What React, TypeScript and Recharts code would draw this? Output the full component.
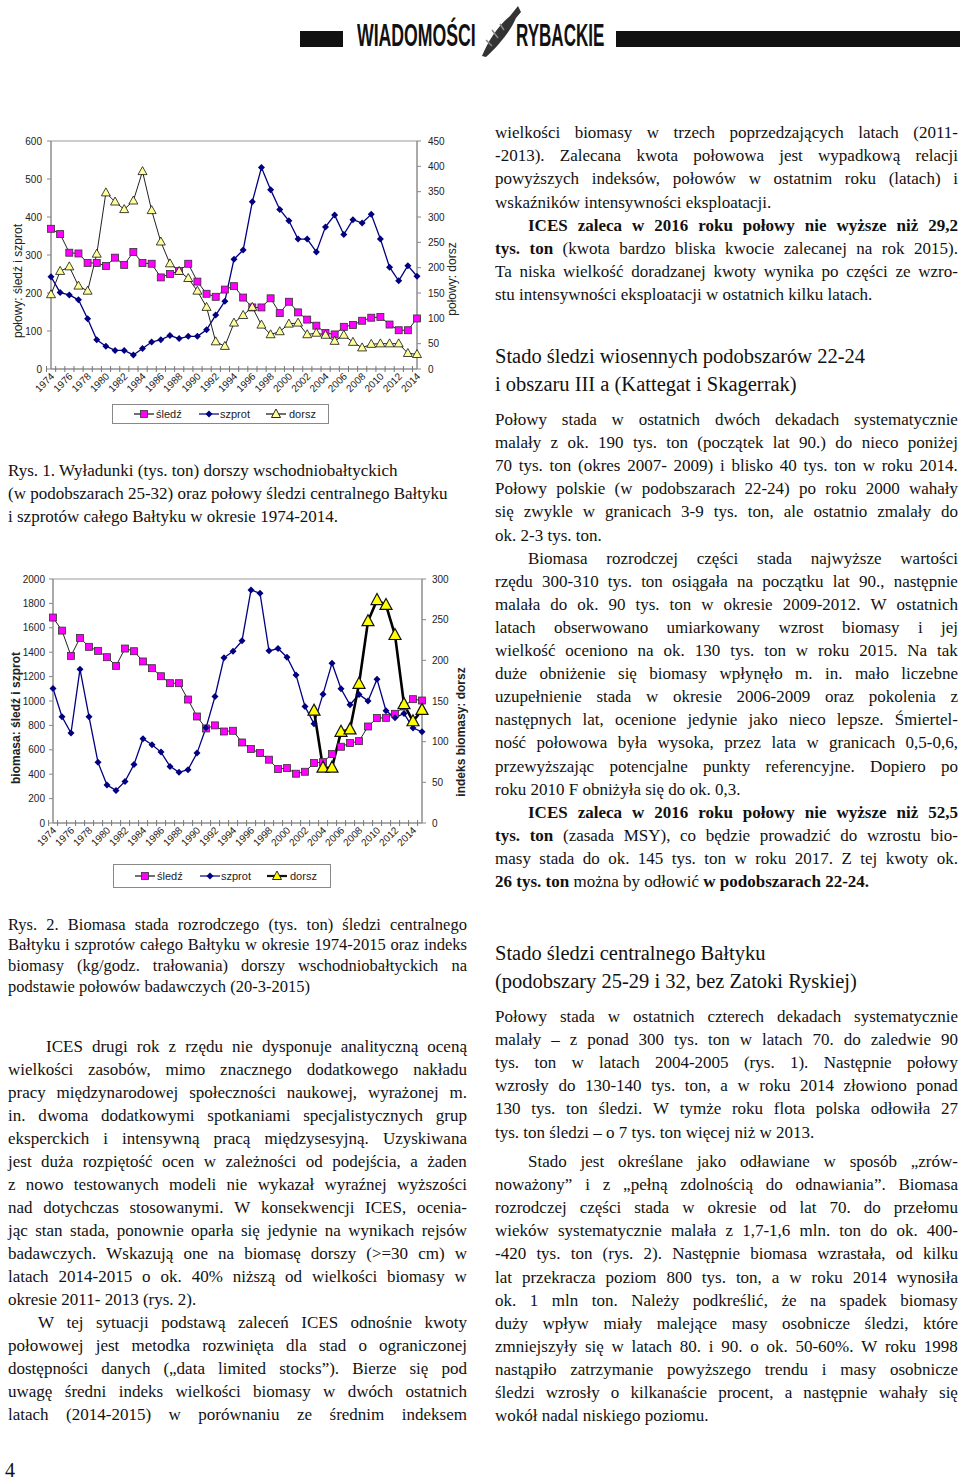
import React from "react";
import { ComposedChart, Line, XAxis, YAxis, Legend, ReferenceArea } from "recharts";

// ---- Rys. 1: połowy / wyładunki (tys. ton) ----
const years1 = ["1974","1975","1976","1977","1978","1979","1980","1981","1982","1983","1984","1985","1986","1987","1988","1989","1990","1991","1992","1993","1994","1995","1996","1997","1998","1999","2000","2001","2002","2003","2004","2005","2006","2007","2008","2009","2010","2011","2012","2013","2014"];
const herringCatch = [369,355,306,304,279,279,271,293,274,308,279,277,241,250,258,277,230,198,190,209,218,188,162,162,186,147,177,149,130,114,95,91,111,116,127,135,137,117,102,102,133];
const spratCatch = [243,201,195,182,132,77,60,49,49,37,54,71,77,88,80,86,86,103,142,178,289,313,440,530,472,420,390,342,342,308,374,405,354,393,384,407,342,268,232,272,244];
const codCatch = [147,193,202,164,154,227,348,330,315,332,390,313,251,208,193,179,154,122,54,45,91,106,122,87,68,74,89,91,68,71,67,55,67,53,42,49,50,50,50,31,29];
const leftTicks1 = [0,100,200,300,400,500,600];
const rightTicks1 = [0,50,100,150,200,250,300,350,400,450];

// ---- Rys. 2: biomasa (tys. ton) i indeks biomasy dorsza ----
const years2 = ["1974","1975","1976","1977","1978","1979","1980","1981","1982","1983","1984","1985","1986","1987","1988","1989","1990","1991","1992","1993","1994","1995","1996","1997","1998","1999","2000","2001","2002","2003","2004","2005","2006","2007","2008","2009","2010","2011","2012","2013","2014","2015"];
const herringSsb = [1684,1577,1370,1517,1444,1411,1359,1288,1430,1408,1324,1269,1203,1146,1146,1012,873,775,800,750,756,660,606,573,519,442,450,404,420,491,499,565,625,655,671,791,860,862,895,955,1015,1004];
const spratSsb = [1103,871,737,1261,871,497,311,267,341,480,690,641,581,464,415,437,573,780,1037,1354,1408,1493,1910,1883,1411,1430,1359,1214,955,813,1056,1310,1100,969,1054,1001,1179,920,862,898,778,748];
const codIndex = [null,null,null,null,null,null,null,null,null,null,null,null,null,null,null,null,null,null,null,null,null,null,null,null,null,null,null,null,null,138,68,68,112,115,171,248,274,268,231,146,125,139];
const leftTicks2 = [0,200,400,600,800,1000,1200,1400,1600,1800,2000];
const rightTicks2 = [0,50,100,150,200,250,300];

const seriesNames = ["śledź", "szprot", "dorsz"];

const catchRows = years1.map((year, i) => ({ year, herring: herringCatch[i], sprat: spratCatch[i], cod: codCatch[i] }));
const ssbRows = years2.map((year, i) => ({ year, herring: herringSsb[i], sprat: spratSsb[i], cod: codIndex[i] }));

const SANS = '"Liberation Sans", Arial, sans-serif';
const SERIF = '"Liberation Serif", "Times New Roman", serif';

const squareDot = (size: number) => (p: any) => {
  if (p.cy == null || isNaN(p.cy)) return <g key={"s" + p.index} />;
  return <rect key={"s" + p.index} x={p.cx - size / 2} y={p.cy - size / 2} width={size} height={size} fill="#ff00ff" stroke="#333" strokeWidth={0.8} />;
};
const diamondDot = (r: number) => (p: any) => {
  if (p.cy == null || isNaN(p.cy)) return <g key={"d" + p.index} />;
  const { cx, cy } = p;
  return <polygon key={"d" + p.index} points={`${cx},${cy - r} ${cx + r},${cy} ${cx},${cy + r} ${cx - r},${cy}`} fill="#000080" />;
};
const triDot = (w: number, h: number, fill: string, sw: number) => (p: any) => {
  if (p.cy == null || isNaN(p.cy)) return <g key={"t" + p.index} />;
  const { cx, cy } = p;
  return <polygon key={"t" + p.index} points={`${cx},${cy - h * 0.6} ${cx + w / 2},${cy + h * 0.4} ${cx - w / 2},${cy + h * 0.4}`} fill={fill} stroke="#111" strokeWidth={sw} />;
};

const yearTick = (bw: number) => (p: any) => {
  const { x, y, payload, index } = p;
  const lx = x + 4;
  const ly = y + 8;
  return (
    <g key={"yt" + index}>
      <line x1={x - bw / 2} x2={x - bw / 2} y1={y - 3} y2={y + 3} stroke="#777" strokeWidth={1} />
      {index % 2 === 0 && (
        <text x={lx} y={ly} textAnchor="end" transform={`rotate(-45 ${lx} ${ly})`} fontSize={10} fill="#222" fontFamily={SANS}>
          {payload.value}
        </text>
      )}
    </g>
  );
};

const axisTitle = (x: number, y: number, text: string, bold: boolean) => () => (
  <text x={x} y={y} transform={`rotate(-90 ${x} ${y})`} textAnchor="middle" dominantBaseline="central" fontSize={12} fontWeight={bold ? "bold" : "normal"} fill="#222" fontFamily={SANS}>
    {text}
  </text>
);

const LegendIcon = ({ kind, big }: { kind: number; big: boolean }) => {
  const cx = 10, cy = 6;
  return (
    <svg width={20} height={12} style={{ position: "absolute", top: 0 }}>
      <line x1={0} x2={20} y1={cy} y2={cy} stroke={kind === 1 ? "#000080" : "#111"} strokeWidth={kind === 2 && big ? 2.2 : 1.2} />
      {kind === 0 && <rect x={cx - 3.5} y={cy - 3.5} width={7} height={7} fill="#ff00ff" stroke="#333" strokeWidth={0.8} />}
      {kind === 1 && <polygon points={`${cx},${cy - 3.5} ${cx + 3.5},${cy} ${cx},${cy + 3.5} ${cx - 3.5},${cy}`} fill="#000080" />}
      {kind === 2 && <polygon points={`${cx},${cy - 5} ${cx + 4.5},${cy + 3.5} ${cx - 4.5},${cy + 3.5}`} fill={big ? "#ffff00" : "#ffff99"} stroke="#111" strokeWidth={0.9} />}
    </svg>
  );
};

const legendBox = (h: number, big: boolean) => () => {
  const iconX = [21, 86, 153];
  const textX = [43, 107, 176];
  return (
    <div style={{ position: "relative", width: "100%", height: h, border: "1px solid #888", boxSizing: "border-box", background: "#fff", fontFamily: SANS, fontSize: 11, color: "#222" }}>
      {seriesNames.map((n, i) => (
        <React.Fragment key={n}>
          <div style={{ position: "absolute", left: iconX[i], top: (h - 14) / 2 }}>
            <LegendIcon kind={i} big={big} />
          </div>
          <div style={{ position: "absolute", left: textX[i], top: (h - 14) / 2, lineHeight: "13px" }}>{n}</div>
        </React.Fragment>
      ))}
    </div>
  );
};

const tickStyle = { fontSize: 10, fill: "#222" };

const CatchChart = () => (
  <ComposedChart width={470} height={320} data={catchRows} margin={{ top: 21, right: 0, bottom: 31, left: 0 }} style={{ fontFamily: SANS }}>
    <XAxis dataKey="year" interval={0} tickSize={0} tickMargin={0} tickLine={false} tick={yearTick(366 / 41)} axisLine={{ stroke: "#888" }} height={40} />
    <YAxis yAxisId="l" domain={[0, 600]} ticks={leftTicks1} interval={0} width={51} tickSize={4} tickMargin={5}
      tick={tickStyle} axisLine={{ stroke: "#888" }} tickLine={{ stroke: "#888" }}
      label={{ content: axisTitle(18, 161, "połowy: śledź i szprot", false) }} />
    <YAxis yAxisId="r" orientation="right" domain={[0, 450]} ticks={rightTicks1} interval={0} width={53} tickSize={4} tickMargin={7}
      tick={tickStyle} axisLine={{ stroke: "#888" }} tickLine={{ stroke: "#888" }}
      label={{ content: axisTitle(452, 159, "połowy: dorsz", false) }} />
    <ReferenceArea yAxisId="l" y1={0} y2={600} fill="none" stroke="#999" strokeWidth={1} />
    <Line yAxisId="l" dataKey="herring" stroke="#222" strokeWidth={1} dot={squareDot(7)} activeDot={false} isAnimationActive={false} />
    <Line yAxisId="l" dataKey="sprat" stroke="#000080" strokeWidth={1.3} dot={diamondDot(3.5)} activeDot={false} isAnimationActive={false} />
    <Line yAxisId="r" dataKey="cod" stroke="#222" strokeWidth={1} dot={triDot(9, 8, "#ffff99", 0.8)} activeDot={false} isAnimationActive={false} />
    <Legend layout="vertical" verticalAlign="middle" align="center" wrapperStyle={{ left: 112, top: 284, width: 217, height: 20 }} content={legendBox(20, false)} />
  </ComposedChart>
);

const BiomassChart = () => (
  <ComposedChart width={475} height={340} data={ssbRows} margin={{ top: 19, right: 0, bottom: 37, left: 0 }} style={{ fontFamily: SANS }}>
    <XAxis dataKey="year" interval={0} tickSize={0} tickMargin={0} tickLine={false} tick={yearTick(369 / 42)} axisLine={{ stroke: "#888" }} height={40} />
    <YAxis yAxisId="l" domain={[0, 2000]} ticks={leftTicks2} interval={0} width={53} tickSize={4} tickMargin={4}
      tick={tickStyle} axisLine={{ stroke: "#888" }} tickLine={{ stroke: "#888" }}
      label={{ content: axisTitle(16, 158, "biomasa: śledź i szprot", true) }} />
    <YAxis yAxisId="r" orientation="right" domain={[0, 300]} ticks={rightTicks2} interval={0} width={53} tickSize={4} tickMargin={6}
      tick={tickStyle} axisLine={{ stroke: "#888" }} tickLine={{ stroke: "#888" }}
      label={{ content: axisTitle(461, 172, "indeks biomasy: dorsz", true) }} />
    <ReferenceArea yAxisId="l" y1={0} y2={2000} fill="none" stroke="#999" strokeWidth={1} />
    <Line yAxisId="l" dataKey="herring" stroke="#222" strokeWidth={1} dot={squareDot(7)} activeDot={false} isAnimationActive={false} />
    <Line yAxisId="l" dataKey="sprat" stroke="#000080" strokeWidth={1.3} dot={diamondDot(3.5)} activeDot={false} isAnimationActive={false} />
    <Line yAxisId="r" dataKey="cod" stroke="#000" strokeWidth={2.6} dot={triDot(12, 11, "#ffff00", 1.2)} activeDot={false} isAnimationActive={false} />
    <Legend layout="vertical" verticalAlign="middle" align="center" wrapperStyle={{ left: 113, top: 304, width: 218, height: 24 }} content={legendBox(24, true)} />
  </ComposedChart>
);

// ---- page text ----
type Blk = { x: number; w: number; base: number; lh: number; size: number; lines: string[] };
// prefix: "J|" justified, "L|" left; ">" / "}" in front = paragraph indent
const blocks: Blk[] = [
  { x: 495, w: 463, base: 138, lh: 23.2, size: 17, lines: [
    "J|wielkości biomasy w trzech poprzedzających latach (2011-",
    "J|-2013). Zalecana kwota połowowa jest wypadkową relacji",
    "J|powyższych indeksów, połowów w ostatnim roku (latach) i",
    "L|wskaźników intensywności eksploatacji.",
    "J|>*ICES zaleca w 2016 roku połowy nie wyższe niż 29,2*",
    "J|*tys. ton* (kwota bardzo bliska kwocie zalecanej na rok 2015).",
    "J|Ta niska wielkość doradzanej kwoty wynika po części ze wzro-",
    "L|stu intensywności eksploatacji w ostatnich kilku latach.",
  ] },
  { x: 495, w: 463, base: 425, lh: 23.1, size: 17, lines: [
    "J|Połowy stada w ostatnich dwóch dekadach systematycznie",
    "J|malały z ok. 190 tys. ton (początek lat 90.) do nieco poniżej",
    "J|70 tys. ton (okres 2007- 2009) i blisko 40 tys. ton w roku 2014.",
    "J|Połowy polskie (w podobszarach 22-24) po roku 2000 wahały",
    "J|się zwykle w granicach 3-9 tys. ton, ale ostatnio zmalały do",
    "L|ok. 2-3 tys. ton.",
    "J|>Biomasa rozrodczej części stada najwyższe wartości",
    "J|rzędu 300-310 tys. ton osiągała na początku lat 90., następnie",
    "J|malała do ok. 90 tys. ton w okresie 2009-2012. W ostatnich",
    "J|latach obserwowano umiarkowany wzrost biomasy i jej",
    "J|wielkość oceniono na ok. 130 tys. ton w roku 2015. Na tak",
    "J|duże obniżenie się biomasy wpłynęło m. in. mało liczebne",
    "J|uzupełnienie stada w okresie 2006-2009 oraz pokolenia z",
    "J|następnych lat, ocenione jedynie jako nieco lepsze. Śmiertel-",
    "J|ność połowowa była wysoka, przez lata w granicach 0,5-0,6,",
    "J|przewyższając potencjalne punkty referencyjne. Dopiero po",
    "L|roku 2010 F obniżyła się do ok. 0,3.",
    "J|>*ICES zaleca w 2016 roku połowy nie wyższe niż 52,5*",
    "J|*tys. ton* (zasada MSY), co będzie prowadzić do wzrostu bio-",
    "J|masy stada do ok. 145 tys. ton w roku 2017. Z tej kwoty ok.",
    "L|*26 tys. ton* można by odłowić *w podobszarach 22-24.*",
  ] },
  { x: 495, w: 463, base: 1022, lh: 23.1, size: 17, lines: [
    "J|Połowy stada w ostatnich czterech dekadach systematycznie",
    "J|malały – z ponad 300 tys. ton w latach 70. do zaledwie 90",
    "J|tys. ton w latach 2004-2005 (rys. 1). Następnie połowy",
    "J|wzrosły do 130-140 tys. ton, a w roku 2014 złowiono ponad",
    "J|130 tys. ton śledzi. W tymże roku flota polska odłowiła 27",
    "L|tys. ton śledzi – o 7 tys. ton więcej niż w 2013.",
  ] },
  { x: 495, w: 463, base: 1167, lh: 23.1, size: 17, lines: [
    "J|>Stado jest określane jako odławiane w sposób „zrów-",
    "J|noważony” i z „pełną zdolnością do odnawiania”. Biomasa",
    "J|rozrodczej części stada w okresie od lat 70. do przełomu",
    "J|wieków systematycznie malała z 1,7-1,6 mln. ton do ok. 400-",
    "J|-420 tys. ton (rys. 2). Następnie biomasa wzrastała, od kilku",
    "J|lat przekracza poziom 800 tys. ton, a w roku 2014 wynosiła",
    "J|ok. 1 mln ton. Należy podkreślić, że na spadek biomasy",
    "J|duży wpływ miały malejące masy osobnicze śledzi, które",
    "J|zmniejszyły się w latach 80. i 90. o ok. 50-60%. W roku 1998",
    "J|nastąpiło zatrzymanie powyższego trendu i masy osobnicze",
    "J|śledzi wzrosły o kilkanaście procent, a następnie wahały się",
    "L|wokół nadal niskiego poziomu.",
  ] },
  { x: 8, w: 459, base: 476, lh: 23, size: 17, lines: [
    "L|Rys. 1. Wyładunki (tys. ton) dorszy wschodniobałtyckich",
    "L|(w podobszarach 25-32) oraz połowy śledzi centralnego Bałtyku",
    "L|i szprotów całego Bałtyku w okresie 1974-2014.",
  ] },
  { x: 8, w: 459, base: 931, lh: 20.8, size: 16.5, lines: [
    "J|Rys. 2. Biomasa stada rozrodczego (tys. ton) śledzi centralnego",
    "J|Bałtyku i szprotów całego Bałtyku w okresie 1974-2015 oraz indeks",
    "J|biomasy (kg/godz. trałowania) dorszy wschodniobałtyckich na",
    "L|podstawie połowów badawczych (20-3-2015)",
  ] },
  { x: 8, w: 459, base: 1052, lh: 23, size: 17, lines: [
    "J|>ICES drugi rok z rzędu nie dysponuje analityczną oceną",
    "J|wielkości zasobów, mimo znacznego dodatkowego nakładu",
    "J|pracy międzynarodowej społeczności naukowej, wyrażonej m.",
    "J|in. dwoma dodatkowymi spotkaniami specjalistycznych grup",
    "J|eksperckich i intensywną pracą międzysesyjną. Uzyskiwana",
    "J|jest duża rozpiętość ocen w zależności od podejścia, a żaden",
    "J|z nowo testowanych modeli nie wykazał wyraźnej wyższości",
    "J|nad dotychczas stosowanymi. W konsekwencji ICES, ocenia-",
    "J|jąc stan stada, ponownie oparła się jedynie na wynikach rejsów",
    "J|badawczych. Wskazują one na biomasę dorszy (>=30 cm) w",
    "J|latach 2014-2015 o ok. 40% niższą od wielkości biomasy w",
    "L|okresie 2011- 2013 (rys. 2).",
    "J|}W tej sytuacji podstawą zaleceń ICES odnośnie kwoty",
    "J|połowowej jest metodka rozwinięta dla stad o ograniczonej",
    "J|dostępności danych („data limited stocks”). Bierze się pod",
    "J|uwagę średni indeks wielkości biomasy w dwóch ostatnich",
    "J|latach (2014-2015) w porównaniu ze średnim indeksem",
  ] },
];

const headings = [
  { x: 495, base: 363, lines: ["Stado śledzi wiosennych podobszarów 22-24", "i obszaru III a (Kattegat i Skagerrak)"] },
  { x: 495, base: 960, lines: ["Stado śledzi centralnego Bałtyku", "(podobszary 25-29 i 32, bez Zatoki Ryskiej)"] },
];

const parseWords = (t: string) => {
  let bold = false;
  return t.split(" ").map((w) => {
    let s = w;
    if (s.startsWith("*")) { s = s.slice(1); bold = true; }
    let close = false;
    if (s.endsWith("*")) { s = s.slice(0, -1); close = true; }
    const word = { s, b: bold };
    if (close) bold = false;
    return word;
  });
};

const TextLine = ({ raw, x, w, top, size, lh }: { raw: string; x: number; w: number; top: number; size: number; lh: number }) => {
  const just = raw.startsWith("J|");
  let t = raw.slice(2);
  let indent = 0;
  if (t.startsWith(">")) { indent = x < 100 ? 38 : 33; t = t.slice(1); }
  if (t.startsWith("}")) { indent = 30; t = t.slice(1); }
  const words = parseWords(t);
  const base: React.CSSProperties = { position: "absolute", left: x + indent, top, height: lh, lineHeight: `${lh}px`, fontSize: size, fontFamily: SERIF, color: "#111", whiteSpace: "pre" };
  if (just) {
    return (
      <div style={{ ...base, width: w - indent, display: "flex", justifyContent: "space-between" }}>
        {words.map((wd, i) => <span key={i} style={{ fontWeight: wd.b ? "bold" : "normal" }}>{wd.s}</span>)}
      </div>
    );
  }
  return (
    <div style={base}>
      {words.map((wd, i) => (
        <span key={i} style={{ fontWeight: wd.b ? "bold" : "normal" }}>{wd.s}{i < words.length - 1 ? " " : ""}</span>
      ))}
    </div>
  );
};

const logoFont: React.CSSProperties = { position: "absolute", top: 19, fontFamily: SANS, fontWeight: "bold", fontSize: 31, lineHeight: "34px", color: "#111", transformOrigin: "0 0", whiteSpace: "pre" };

const Header = () => (
  <>
    <div style={{ position: "absolute", left: 300, top: 31, width: 43, height: 16, background: "#111" }} />
    <div style={{ ...logoFont, left: 357, transform: "scaleX(0.57)" }}>WIADOMOŚCI</div>
    <svg style={{ position: "absolute", left: 474, top: 2 }} width={56} height={56}>
      <path d="M8 54 C 14 40, 22 26, 36 14 L 44 4 L 47 10 L 42 16 C 36 30, 24 44, 12 55 Z" fill="#333" />
      <path d="M18 44 L 12 38 M 24 36 L 18 28 M 30 28 L 26 22" stroke="#888" strokeWidth={1.5} />
    </svg>
    <div style={{ ...logoFont, left: 516, transform: "scaleX(0.55)" }}>RYBACKIE</div>
    <div style={{ position: "absolute", left: 616, top: 31, width: 344, height: 16, background: "#111" }} />
  </>
);

export default function App() {
  return (
    <div style={{ position: "absolute", left: 0, top: 0, width: 960, height: 1481, background: "#fff", overflow: "hidden" }}>
      <Header />
      <div style={{ position: "absolute", left: 0, top: 120 }}>
        <CatchChart />
      </div>
      <div style={{ position: "absolute", left: 0, top: 560 }}>
        <BiomassChart />
      </div>
      {blocks.map((b, bi) =>
        b.lines.map((ln, li) => (
          <TextLine key={`${bi}-${li}`} raw={ln} x={b.x} w={b.w} top={b.base + li * b.lh - b.size} size={b.size} lh={b.lh} />
        ))
      )}
      {headings.map((h, hi) =>
        h.lines.map((ln, li) => (
          <div key={`h${hi}-${li}`} style={{ position: "absolute", left: h.x, top: h.base + li * 28.3 - 21, fontFamily: SERIF, fontSize: 20.5, lineHeight: "28px", color: "#111", whiteSpace: "pre" }}>
            {ln}
          </div>
        ))
      )}
      <div style={{ position: "absolute", left: 5, top: 1458, fontFamily: SERIF, fontSize: 20, lineHeight: "24px", color: "#111" }}>4</div>
    </div>
  );
}
